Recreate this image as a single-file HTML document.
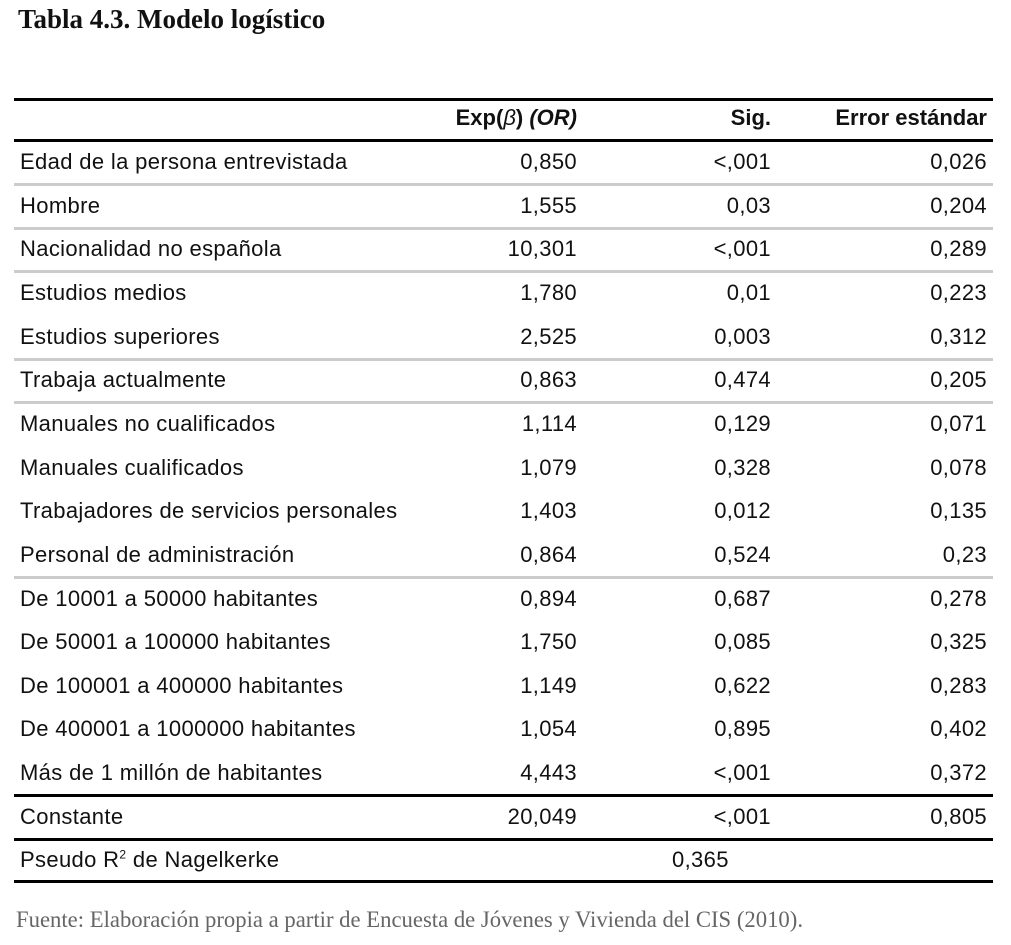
<!DOCTYPE html>
<html><head><meta charset="utf-8"><style>
body{margin:0;width:1011px;height:945px;background:#fff;position:relative;overflow:hidden;font-family:"Liberation Sans",sans-serif;color:#111}
.t{position:absolute;font-size:22px;letter-spacing:0.35px;line-height:24px;white-space:nowrap}
.h{letter-spacing:0}
.l{left:20px}.c2{right:434px;text-align:right}.c3{right:240px;text-align:right}.c4{right:24px;text-align:right}
.line{position:absolute;left:14px;width:979px}
.blk{background:#000;height:3px}.gry{background:#ccc;height:3px}
</style></head><body>
<div style="position:absolute;left:18px;top:4px;font-family:'Liberation Serif',serif;font-weight:bold;font-size:27px;line-height:30px">Tabla 4.3. Modelo logístico</div>
<div id="tbl"></div>
<div style="position:absolute;left:16px;top:906px;font-family:'Liberation Serif',serif;font-size:22.7px;line-height:28px;color:#666">Fuente: Elaboración propia a partir de Encuesta de Jóvenes y Vivienda del CIS (2010).</div>
<script>
const labels=["Edad de la persona entrevistada","Hombre","Nacionalidad no española","Estudios medios","Estudios superiores","Trabaja actualmente","Manuales no cualificados","Manuales cualificados","Trabajadores de servicios personales","Personal de administración","De 10001 a 50000 habitantes","De 50001 a 100000 habitantes","De 100001 a 400000 habitantes","De 400001 a 1000000 habitantes","Más de 1 millón de habitantes","Constante"];
const orVals=["0,850","1,555","10,301","1,780","2,525","0,863","1,114","1,079","1,403","0,864","0,894","1,750","1,149","1,054","4,443","20,049"];
const sigVals=["<,001","0,03","<,001","0,01","0,003","0,474","0,129","0,328","0,012","0,524","0,687","0,085","0,622","0,895","<,001","<,001"];
const seVals=["0,026","0,204","0,289","0,223","0,312","0,205","0,071","0,078","0,135","0,23","0,278","0,325","0,283","0,402","0,372","0,805"];
const grayAfter=[0,1,2,4,5,9];
const T=document.getElementById('tbl');
function add(cls,y,html,name){const d=document.createElement('div');d.className=cls;d.style.top=y+'px';d.innerHTML=html;


T.appendChild(d);return d;}
function line(cls,y,name){const d=document.createElement('div');d.className='line '+cls;d.style.top=y+'px';


T.appendChild(d);}
line('blk',98,'top-rule');
add('t h c2',106,'<b>Exp(</b><i>β</i><b>) <i>(OR)</i></b>','header-or');
add('t h c3',106,'<b>Sig.</b>','header-sig');
add('t h c4',106,'<b>Error estándar</b>','header-se');
line('blk',139,'header-rule');
const pitch=43.65,y0=150,ly=151;
labels.forEach((lab,i)=>{const y=Math.round(y0+i*pitch);
add('t l',y,lab,'row-label');
add('t c2',y,orVals[i],'or-value');
add('t c3',y,sigVals[i].replace('<','&lt;'),'sig-value');
add('t c4',y,seVals[i],'se-value');
if(grayAfter.includes(i)) line('gry',Math.round(ly-1+i*pitch+33),'row-separator');
});
line('blk',Math.round(ly-1+14*pitch+33),'constant-rule');
line('blk',Math.round(ly-1+15*pitch+33),'constant-bottom-rule');
const yp=Math.round(y0+16*pitch);
add('t l',yp,'Pseudo R<sup style="font-size:12px;line-height:0">2</sup> de Nagelkerke','pseudo-r2-label');
add('t',yp,'0,365','pseudo-r2-value').style.left='672px';
line('blk',Math.round(ly-1+16*pitch+32),'bottom-rule');
</script>
</body></html>
